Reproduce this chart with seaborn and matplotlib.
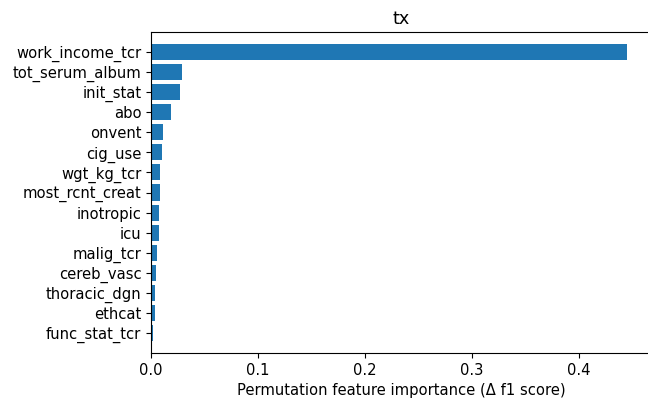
import matplotlib.pyplot as plt
import seaborn as sns
import pandas as pd

# Permutation importance values
features = ['work_income_tcr', 'tot_serum_album', 'init_stat', 'abo', 'onvent',
            'cig_use', 'wgt_kg_tcr', 'most_rcnt_creat', 'inotropic', 'icu',
            'malig_tcr', 'cereb_vasc', 'thoracic_dgn', 'ethcat', 'func_stat_tcr']
importance = [0.4455, 0.0287, 0.0271, 0.0187, 0.0115,
              0.0106, 0.0087, 0.0085, 0.0078, 0.0078,
              0.0059, 0.0047, 0.0034, 0.0034, 0.0019]

df = pd.DataFrame({'feature': features, 'importance': importance})

plt.rcParams['font.size'] = 10.6

fig = plt.figure(figsize=(6.48, 4), dpi=100)
ax = fig.add_axes([0.233, 0.1175, 0.772, 0.8025])
sns.barplot(data=df, x='importance', y='feature', orient='h',
            color='#1f77b4', saturation=1, width=0.8, ax=ax)

ax.set_ylim(len(features), -1)
ax.set_xlim(0, 0.4455 * 1.05)
ax.set_xticks([0.0, 0.1, 0.2, 0.3, 0.4])
ax.set_ylabel('')
ax.set_xlabel('Permutation feature importance (Δ f1 score)')
ax.set_title('tx', fontsize=12.7)

fig.savefig('out.png', dpi=100)
